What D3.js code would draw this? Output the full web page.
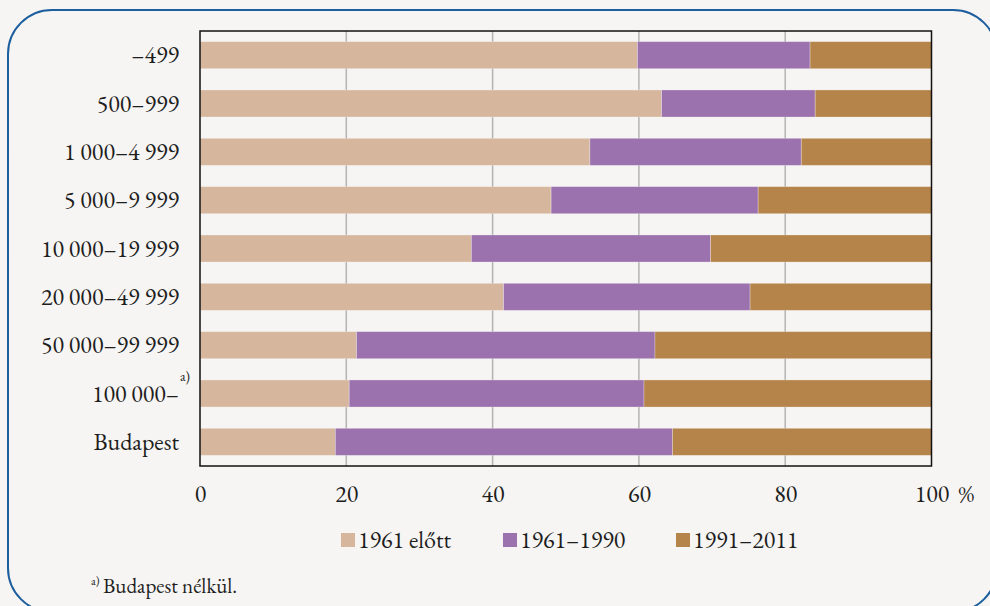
<!DOCTYPE html>
<html>
<head>
<meta charset="utf-8">
<script src="https://cdn.jsdelivr.net/npm/d3@7"></script>
</head>
<body style="margin:0;padding:0;background:#f6f5f3">
<svg id="chart" width="990" height="606" style="display:block"></svg>
<script>
// ---- data ----
const categories = ["–499", "500–999", "1 000–4 999", "5 000–9 999", "10 000–19 999",
                    "20 000–49 999", "50 000–99 999", "100 000–", "Budapest"];
const seriesNames = ["1961 előtt", "1961–1990", "1991–2011"];
const before1961 = [59.8, 63.1, 53.3, 48.0, 37.1, 41.5, 21.4, 20.4, 18.5];
const from1961to1990 = [23.6, 21.0, 28.9, 28.3, 32.7, 33.7, 40.8, 40.3, 46.1];
const from1991to2011 = [16.6, 15.9, 17.8, 23.7, 30.2, 24.8, 37.8, 39.3, 35.4];
const xTicks = [0, 20, 40, 60, 80, 100];
const xTickLabels = ["0", "20", "40", "60", "80", "100"];
const unitLabel = "%";
const footnoteCategory = "100 000–";
const footnoteMark = "a)";
const footnoteText = "Budapest nélkül.";

const colors = ["#d6b79e", "#9b72ad", "#b5844b"];
const FONT = '"EB Garamond", "Liberation Serif", serif';
const FS = 24;

// ---- build table ----
const rows = categories.map((c, i) => ({
  cat: c,
  [seriesNames[0]]: before1961[i],
  [seriesNames[1]]: from1961to1990[i],
  [seriesNames[2]]: from1991to2011[i]
}));
const stacked = d3.stack().keys(seriesNames)(rows);

const svg = d3.select("#chart");

function styleText(sel, size) {
  sel.attr("font-family", FONT)
     .attr("font-size", size)
     .attr("fill", "#1e1e1e")
     .style("font-variant-numeric", "lining-nums")
     .style("font-feature-settings", '"lnum" 1');
  return sel;
}

// outer rounded frame
svg.append("rect")
  .attr("x", 8).attr("y", 10)
  .attr("width", 989).attr("height", 602)
  .attr("rx", 44).attr("ry", 44)
  .attr("fill", "#f6f5f3")
  .attr("stroke", "#1d5f9e").attr("stroke-width", 2);

const plot = { left: 200, right: 931.5, top: 31, bottom: 466 };

const x = d3.scaleLinear().domain([0, 100]).range([plot.left, plot.right]);
const y = d3.scaleBand().domain(categories)
  .range([plot.top, plot.bottom])
  .paddingInner(0.44).paddingOuter(0.22);

// gridlines
svg.append("g").selectAll("line")
  .data(xTicks.filter(t => t > 0 && t < 100))
  .join("line")
  .attr("x1", d => x(d)).attr("x2", d => x(d))
  .attr("y1", plot.top).attr("y2", plot.bottom)
  .attr("stroke", "#b3b3b3").attr("stroke-width", 1.5);

// bars
svg.append("g").selectAll("g")
  .data(stacked)
  .join("g")
  .attr("fill", (d, i) => colors[i])
  .selectAll("rect")
  .data(d => d)
  .join("rect")
  .attr("x", d => x(d[0]))
  .attr("width", d => x(d[1]) - x(d[0]))
  .attr("y", d => y(d.data.cat))
  .attr("height", y.bandwidth())
  .attr("stroke", "rgba(255,255,255,0.35)")
  .attr("stroke-width", 0.8);

// plot frame
svg.append("rect")
  .attr("x", plot.left).attr("y", plot.top)
  .attr("width", plot.right - plot.left).attr("height", plot.bottom - plot.top)
  .attr("fill", "none").attr("stroke", "#111").attr("stroke-width", 1.5);

// y axis labels
const yAxis = d3.axisLeft(y).tickSize(0).tickPadding(21);
const gy = svg.append("g").attr("transform", `translate(${plot.left},0)`).call(yAxis);
gy.attr("font-family", null).attr("font-size", null);
gy.select(".domain").remove();
styleText(gy.selectAll("text"), FS).attr("dy", "0.34em");

// footnote mark on category
styleText(svg.append("text"), 14)
  .attr("x", plot.left - 20).attr("y", y(footnoteCategory) + 1)
  .text(footnoteMark);

// x axis labels
const xAxis = d3.axisBottom(x).tickValues(xTicks)
  .tickFormat((d, i) => xTickLabels[i]).tickSize(0).tickPadding(0);
const gx = svg.append("g").attr("transform", `translate(0,${plot.bottom})`).call(xAxis);
gx.attr("font-family", null).attr("font-size", null);
gx.select(".domain").remove();
styleText(gx.selectAll("text"), FS).attr("y", 36).attr("dy", null);

styleText(svg.append("text"), FS)
  .attr("x", x(100) + 27).attr("y", 502)
  .text(unitLabel);

// legend
const legendX = [341, 503, 676];
const lg = svg.append("g").selectAll("g")
  .data(seriesNames)
  .join("g")
  .attr("transform", (d, i) => `translate(${legendX[i]},533)`);
lg.append("rect").attr("width", 14).attr("height", 14)
  .attr("fill", (d, i) => colors[i]);
styleText(lg.append("text"), FS).attr("x", 17).attr("y", 15)
  .text(d => d);

// footnote
styleText(svg.append("text"), 12).attr("x", 91).attr("y", 585).text(footnoteMark);
styleText(svg.append("text"), 21).attr("x", 103).attr("y", 593).text(footnoteText);
</script>
</body>
</html>
